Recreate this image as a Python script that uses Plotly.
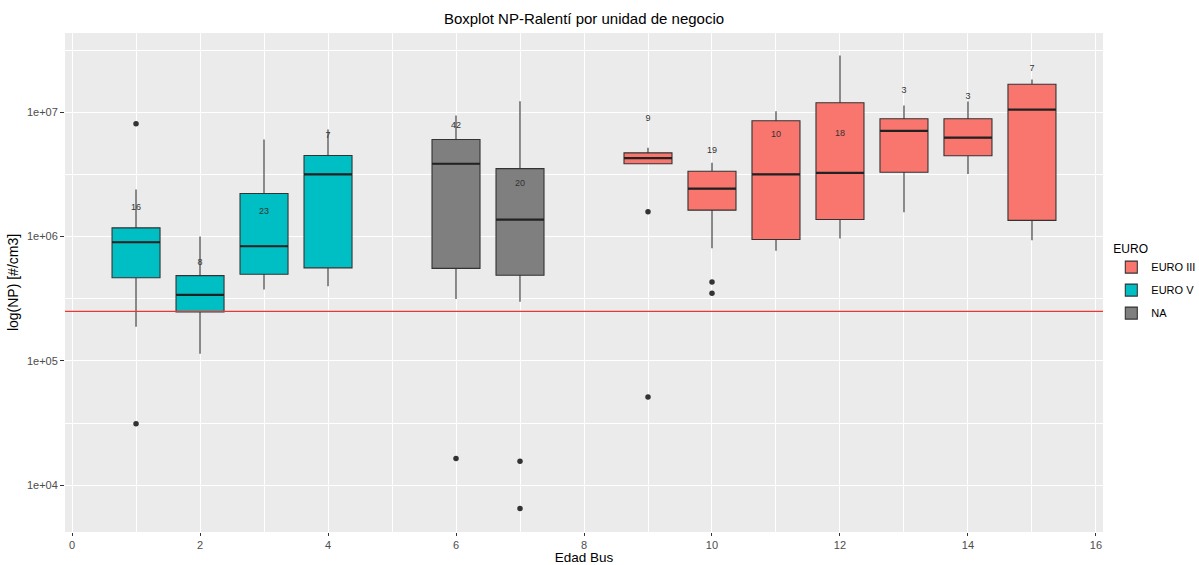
import plotly.graph_objects as go

# Bus age (years) and emission standard per group
edad = [1, 2, 3, 4, 6, 7, 9, 10, 11, 12, 13, 14, 15]
euro = ["EURO V", "EURO V", "EURO V", "EURO V", "NA", "NA",
        "EURO III", "EURO III", "EURO III", "EURO III", "EURO III", "EURO III", "EURO III"]

# Box statistics of NP at idle [#/cm3]
lower = [1.88e5, 1.14e5, 3.75e5, 3.98e5, 3.15e5, 2.99e5, 3.85e6, 8.05e5, 7.7e5, 9.64e5, 1.57e6, 3.19e6, 9.33e5]
q1 = [4.66e5, 2.48e5, 4.98e5, 5.6e5, 5.55e5, 4.89e5, 3.85e6, 1.63e6, 9.47e5, 1.37e6, 3.29e6, 4.46e6, 1.35e6]
median = [9.0e5, 3.4e5, 8.36e5, 3.16e6, 3.85e6, 1.37e6, 4.27e6, 2.43e6, 3.16e6, 3.25e6, 7.08e6, 6.25e6, 1.05e7]
q3 = [1.175e6, 4.85e5, 2.22e6, 4.49e6, 6.03e6, 3.52e6, 4.71e6, 3.35e6, 8.53e6, 1.19e7, 8.85e6, 8.85e6, 1.68e7]
upper = [2.39e6, 1.0e6, 6.03e6, 7.26e6, 9.4e6, 1.225e7, 5.18e6, 3.92e6, 1.02e7, 2.86e7, 1.13e7, 1.22e7, 1.83e7]

# Sample counts and where they are written
n_obs = [16, 8, 23, 7, 42, 20, 9, 19, 10, 18, 3, 3, 7]
n_y = [1.72e6, 6.2e5, 1.57e6, 6.5e6, 7.85e6, 2.65e6, 8.9e6, 4.92e6, 6.53e6, 6.74e6, 1.5e7, 1.33e7, 2.25e7]

# Outlying observations
out_x = [1, 1, 6, 7, 7, 9, 9, 10, 10]
out_y = [8.07e6, 3.13e4, 1.64e4, 1.56e4, 6.5e3, 1.58e6, 5.13e4, 4.32e5, 3.5e5]

# Reference level
limite = 2.5e5

groups = ["EURO III", "EURO V", "NA"]
fills = {"EURO III": "#F8766D", "EURO V": "#00BFC4", "NA": "#7F7F7F"}
box_w = 0.75
edge = "#333333"
FONT = "Liberation Sans, Arial, sans-serif"

fig = go.Figure()

for g in groups:
    idx = [i for i, e in enumerate(euro) if e == g]
    fig.add_trace(go.Box(
        name=g,
        legendgroup=g,
        x=[edad[i] for i in idx],
        lowerfence=[lower[i] for i in idx],
        q1=[q1[i] for i in idx],
        median=[median[i] for i in idx],
        q3=[q3[i] for i in idx],
        upperfence=[upper[i] for i in idx],
        width=box_w,
        whiskerwidth=0,
        fillcolor=fills[g],
        line=dict(color=edge, width=1.1),
        boxpoints=False,
        hoverinfo="skip",
    ))

# Thicker median bars
mx, my = [], []
for xi, m in zip(edad, median):
    mx += [xi - box_w / 2, xi + box_w / 2, None]
    my += [m, m, None]
fig.add_trace(go.Scatter(x=mx, y=my, mode="lines", line=dict(color="#222222", width=2.2),
                         showlegend=False, hoverinfo="skip"))

# Outliers
fig.add_trace(go.Scatter(x=out_x, y=out_y, mode="markers",
                         marker=dict(color="#333333", size=5.5),
                         showlegend=False, hoverinfo="skip"))

# Count labels
fig.add_trace(go.Scatter(x=edad, y=n_y, mode="text", text=[str(v) for v in n_obs],
                         textfont=dict(family=FONT, size=9, color="#333333"),
                         showlegend=False, hoverinfo="skip"))

# Horizontal reference line
fig.add_trace(go.Scatter(x=[-1, 17], y=[limite, limite], mode="lines",
                         line=dict(color="#E53935", width=1.2),
                         showlegend=False, hoverinfo="skip"))

tick_font = dict(family=FONT, size=11, color="#4D4D4D")

fig.update_layout(
    width=1199, height=565,
    margin=dict(l=65, r=96, t=33, b=33, autoexpand=False),
    paper_bgcolor="white",
    plot_bgcolor="#EBEBEB",
    boxmode="overlay",
    font=dict(family=FONT, color="#000000"),
    title=dict(text="Boxplot NP-Ralentí por unidad de negocio",
               x=(65 + 1103) / 2 / 1199, xanchor="center", y=1 - 19 / 565, yanchor="middle",
               font=dict(size=15, color="#000000")),
    xaxis=dict(
        range=[-0.11, 16.11], tickmode="array", tickvals=[0, 2, 4, 6, 8, 10, 12, 14, 16],
        showgrid=True, gridcolor="white", gridwidth=1.3, zeroline=False,
        ticks="outside", ticklen=3, tickcolor="#333333", tickwidth=1,
        tickfont=tick_font, automargin=False,
        minor=dict(tickmode="array", tickvals=[1, 3, 5, 7, 9, 11, 13, 15],
                   showgrid=True, gridcolor="white", gridwidth=0.7),
        title=dict(text="Edad Bus", font=dict(size=13.5, color="#000000"), standoff=0),
    ),
    yaxis=dict(
        type="log", range=[3.624, 7.637],
        tickmode="array", tickvals=[1e4, 1e5, 1e6, 1e7],
        ticktext=["1e+04", "1e+05", "1e+06", "1e+07"],
        showgrid=True, gridcolor="white", gridwidth=1.3, zeroline=False,
        ticks="outside", ticklen=4, tickcolor="#333333", tickwidth=1,
        tickfont=tick_font, automargin=False,
        minor=dict(tickmode="array", tickvals=[10 ** 3.5, 10 ** 4.5, 10 ** 5.5, 10 ** 6.5, 10 ** 7.5],
                   showgrid=True, gridcolor="white", gridwidth=0.7),
        title=dict(text="log(NP) [#/cm3]", font=dict(size=14, color="#000000"), standoff=4),
    ),
    legend=dict(
        title=dict(text="EURO", font=dict(size=12, color="#000000")),
        font=dict(size=11, color="#000000"),
        x=1.008, xanchor="left", y=0.5, yanchor="middle",
        bgcolor="rgba(0,0,0,0)", tracegroupgap=4, itemwidth=30,
    ),
)

fig.write_html("out.html")
